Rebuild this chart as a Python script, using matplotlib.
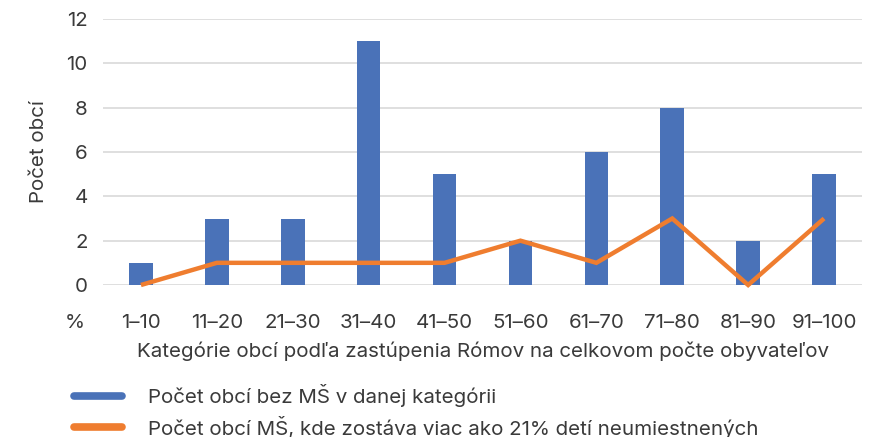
import matplotlib
matplotlib.use("Agg")
import matplotlib.pyplot as plt
from matplotlib.lines import Line2D
import numpy as np

categories = ["1–10", "11–20", "21–30", "31–40", "41–50", "51–60", "61–70", "71–80", "81–90", "91–100"]
bez_ms = [1, 3, 3, 11, 5, 2, 6, 8, 2, 5]
ms_viac21 = [0, 1, 1, 1, 1, 2, 1, 3, 0, 3]
yticks = [0, 2, 4, 6, 8, 10, 12]

label_bars = "Počet obcí bez MŠ v danej kategórii"
label_line = "Počet obcí MŠ, kde zostáva viac ako 21% detí neumiestnených"
xlabel = "Kategórie obcí podľa zastúpenia Rómov na celkovom počte obyvateľov"
ylabel = "Počet obcí"

plt.rcParams['font.family'] = ['Inter', 'DejaVu Sans']
txt = '#3a3a3a'
blue = '#4a72b8'
orange = '#ef7d2f'
fs = 14.8

W, H = 872, 437
fig = plt.figure(figsize=(W / 100, H / 100), dpi=100)
ax = fig.add_axes([103 / W, 1 - 285 / H, (862 - 103) / W, (285 - 19) / H])

x = np.arange(len(categories))
ax.bar(x, bez_ms, width=0.31, color=blue, zorder=2)
ax.plot(x, ms_viac21, color=orange, lw=3.2, zorder=3, clip_on=False,
        solid_joinstyle='miter', solid_capstyle='butt')

ax.set_xlim(-0.5, len(categories) - 0.5)
ax.set_ylim(0, 12)
ax.set_yticks(yticks)
ax.set_xticks(x)
ax.set_xticklabels(categories)
ax.yaxis.grid(True, color='#d9d9d9', lw=1.2, zorder=0)
ax.set_axisbelow(True)
for s in ax.spines.values():
    s.set_visible(False)
ax.tick_params(axis='both', length=0, labelsize=fs, colors=txt)
ax.tick_params(axis='x', pad=21)
ax.tick_params(axis='y', pad=11)

ax.set_xlabel(xlabel, fontsize=fs, color=txt, labelpad=7)
ax.set_ylabel(ylabel, fontsize=fs, color=txt, labelpad=13)
ax.text(75 / W, 1 - 323 / H, "%", transform=fig.transFigure, fontsize=fs,
        color=txt, ha='center', va='center')

handles = [Line2D([0], [0], color=blue, lw=5.5, solid_capstyle='round'),
           Line2D([0], [0], color=orange, lw=5.5, solid_capstyle='round')]
fig.legend(handles, [label_bars, label_line], loc='upper left',
           bbox_to_anchor=(74 / W, 1 - 384 / H), frameon=False, fontsize=fs,
           labelcolor=txt, handlelength=2.35, handletextpad=1.25,
           labelspacing=0.42, borderaxespad=0, borderpad=0)

fig.savefig("out.png", dpi=100)
